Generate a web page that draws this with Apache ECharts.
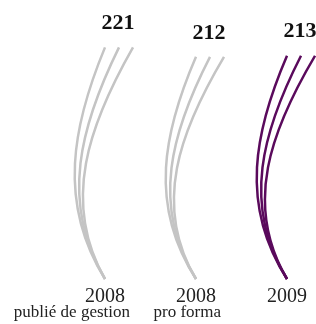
<!DOCTYPE html>
<html>
<head>
<meta charset="utf-8">
<script src="https://cdn.jsdelivr.net/npm/echarts@6/dist/echarts.min.js"></script>
<style>
  html, body { margin: 0; padding: 0; background: #fff; }
  #chart { width: 316px; height: 324px; }
</style>
</head>
<body>
<div id="chart"></div>
<script>
const years = ['2008', '2008', '2009'];
const subtitles = ['publié de gestion', 'pro forma', ''];
const values = [221, 212, 213];

const GREY = '#c4c4c4';
const PURPLE = '#5a0a5c';
const FONT = '"Liberation Serif", "DejaVu Serif", serif';

const chart = echarts.init(document.getElementById('chart'));

// dessine 3 traits courbes par colonne, du pied (0) jusqu'a la valeur
function renderItem(params, api) {
  const i = api.value(0);
  const base = api.coord([i, 0]);
  const top = api.coord([i, api.value(1)]);
  const h = base[1] - top[1];
  const color = i === values.length - 1 ? PURPLE : GREY;
  const children = [];
  for (let k = 0; k < 3; k++) {
    children.push({
      type: 'bezierCurve',
      shape: {
        x1: base[0], y1: base[1],
        cpx1: base[0] - 48 + 2 * k, cpy1: base[1] - h / 3,
        cpx2: base[0] - 32 + 8 * k, cpy2: base[1] - 2 * h / 3,
        x2: base[0] + 14 * k, y2: top[1]
      },
      style: { stroke: color, lineWidth: 2.5, fill: 'none' }
    });
  }
  children.push({
    type: 'text',
    x: base[0] + 13,
    y: top[1] - 24,
    style: {
      text: String(api.value(1)),
      font: 'bold 22px ' + FONT,
      fill: '#111',
      align: 'center',
      verticalAlign: 'middle'
    }
  });
  if (subtitles[i]) {
    children.push({
      type: 'text',
      x: base[0] + 25,
      y: base[1] + 34,
      style: {
        text: subtitles[i],
        font: '17px ' + FONT,
        fill: '#222',
        align: 'right',
        verticalAlign: 'middle'
      }
    });
  }
  return { type: 'group', children };
}

chart.setOption({
  animation: false,
  grid: { left: 105, right: 29, top: 17, bottom: 45 },
  xAxis: {
    type: 'category',
    data: years,
    boundaryGap: false,
    axisLine: { show: false },
    axisTick: { show: false },
    axisLabel: {
      margin: 8,
      color: '#222',
      fontFamily: FONT,
      fontSize: 20,
      interval: 0
    }
  },
  yAxis: {
    type: 'value',
    min: 0,
    max: 250,
    show: false
  },
  series: [{
    type: 'custom',
    renderItem,
    clip: false,
    data: values.map((v, i) => [i, v])
  }]
});
</script>
</body>
</html>
